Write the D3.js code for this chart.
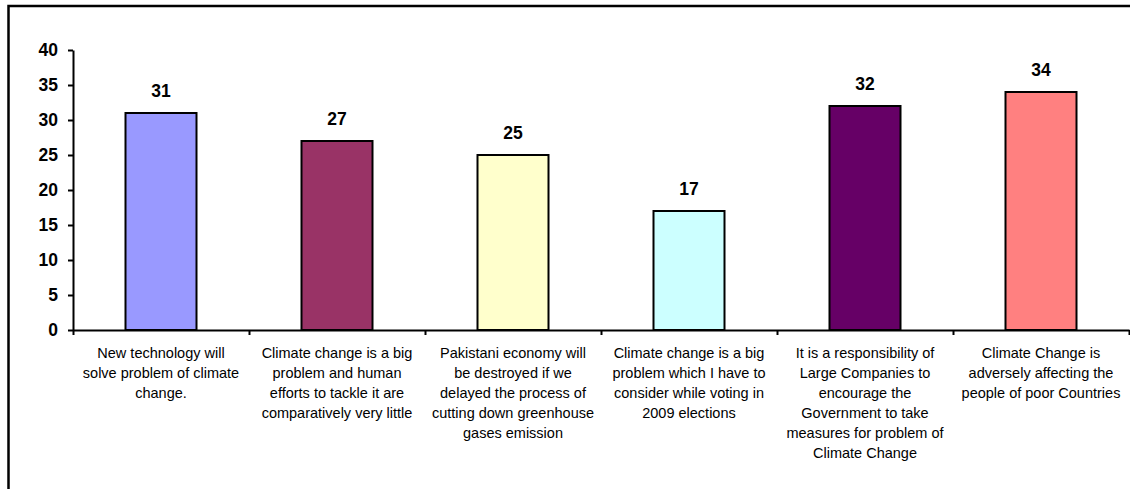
<!DOCTYPE html>
<html>
<head>
<meta charset="utf-8">
<script src="https://cdn.jsdelivr.net/npm/d3@7"></script>
<style>
  html, body { margin: 0; padding: 0; background: #fff; }
  svg { display: block; font-family: Arial, "Liberation Sans", sans-serif; }
</style>
</head>
<body>
<svg id="chart" width="1130" height="489"></svg>
<script>
const categories = [
  ["New technology will", "solve problem of climate", "change."],
  ["Climate change is a big", "problem and human", "efforts to tackle it are", "comparatively very little"],
  ["Pakistani economy will", "be destroyed if we", "delayed the process of", "cutting down greenhouse", "gases emission"],
  ["Climate change is a big", "problem which I have to", "consider while voting in", "2009 elections"],
  ["It is a responsibility of", "Large Companies to", "encourage the", "Government to take", "measures for problem of", "Climate Change"],
  ["Climate Change is", "adversely affecting the", "people of poor Countries"]
];
const values = [31, 27, 25, 17, 32, 34];
const colors = ["#9999FF", "#993366", "#FFFFCC", "#CCFFFF", "#660066", "#FF8080"];
const yTicks = [0, 5, 10, 15, 20, 25, 30, 35, 40];

(function () {
const svg = d3.select("#chart");

// outer frame
svg.append("rect")
  .attr("x", 8.5).attr("y", 6)
  .attr("width", 1300).attr("height", 1000)
  .attr("fill", "none").attr("stroke", "#000").attr("stroke-width", 2.5);

const mLeft = 73, mRight = 1129, mTop = 50, mBottom = 330;
const idx = values.map((d, i) => i);

const pad = 1 - 71 / 176;
const x = d3.scaleBand().domain(idx).range([mLeft, mRight]).paddingInner(pad).paddingOuter(pad / 2);
const xTick = d3.scaleLinear().domain([0, values.length]).range([mLeft, mRight]);
const y = d3.scaleLinear().domain([0, 40]).range([mBottom, mTop]);

// bars
svg.selectAll("rect.bar").data(values).enter().append("rect")
  .attr("class", "bar")
  .attr("x", (d, i) => x(i))
  .attr("width", x.bandwidth())
  .attr("y", d => y(d))
  .attr("height", d => y(0) - y(d))
  .attr("fill", (d, i) => colors[i])
  .attr("stroke", "#000").attr("stroke-width", 2);

// value labels
svg.selectAll("text.val").data(values).enter().append("text")
  .attr("class", "val")
  .attr("x", (d, i) => x(i) + x.bandwidth() / 2)
  .attr("y", d => y(d) - 16)
  .attr("text-anchor", "middle")
  .attr("font-size", 17.5).attr("font-weight", "bold")
  .text(d => d);

// y axis
const yAxis = d3.axisLeft(y).tickValues(yTicks).tickSize(5).tickSizeOuter(0).tickPadding(10);
const gy = svg.append("g").attr("transform", `translate(${mLeft},0)`).call(yAxis);
gy.select(".domain").attr("stroke", "#000").attr("stroke-width", 2);
gy.selectAll(".tick line").attr("stroke", "#000").attr("stroke-width", 2);
gy.selectAll(".tick text").attr("font-size", 17.5).attr("font-weight", "bold")
  .attr("font-family", "Arial, 'Liberation Sans', sans-serif").attr("fill", "#000");

// x axis line and ticks
const xAxis = d3.axisBottom(xTick).tickValues(d3.range(values.length + 1)).tickSize(5).tickSizeOuter(0).tickFormat("");
const gx = svg.append("g").attr("transform", `translate(0,${mBottom})`).call(xAxis);
gx.select(".domain").attr("stroke", "#000").attr("stroke-width", 2);
gx.selectAll(".tick line").attr("stroke", "#000").attr("stroke-width", 2);

// category labels
const cat = svg.selectAll("text.cat").data(categories).enter().append("text")
  .attr("class", "cat")
  .attr("text-anchor", "middle")
  .attr("font-size", 14.5)
  .attr("fill", "#000");
cat.each(function (lines, i) {
  d3.select(this).selectAll("tspan").data(lines).enter().append("tspan")
    .attr("x", x(i) + x.bandwidth() / 2)
    .attr("y", (l, j) => 358 + j * 20)
    .text(l => l);
});
})();
</script>
</body>
</html>
